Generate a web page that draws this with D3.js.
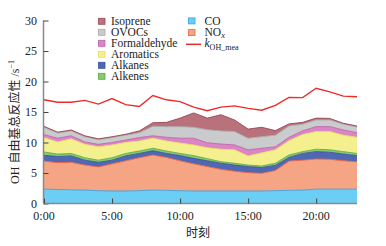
<!DOCTYPE html>
<html><head><meta charset="utf-8">
<script src="https://cdn.jsdelivr.net/npm/d3@7"></script>
<style>body{margin:0;background:#fff}</style>
</head><body><svg id="c" width="386" height="246" font-family="'Liberation Serif','Times New Roman','DejaVu Serif','Noto Sans CJK SC',serif"></svg>
<script>
const hours = d3.range(0, 24);
const seriesNames = ["CO","NOx","Alkanes","Alkenes","Aromatics","Formaldehyde","OVOCs","Isoprene"];
const CO =          [2.35,2.3,2.25,2.2,2.1,2.05,2.05,2.1,2.2,2.15,2.1,2.05,2.05,2.05,2.05,2.05,2.05,2.1,2.15,2.2,2.35,2.35,2.35,2.35];
const NOx =         [4.6,4.4,4.5,4.1,3.9,4.45,4.95,5.4,5.75,5.4,4.9,4.45,4.0,3.55,3.25,3.0,2.9,3.3,4.8,4.9,4.95,4.9,4.65,4.5];
const Alkanes =     [0.95,1.0,1.05,0.8,0.75,0.6,0.8,0.7,0.7,0.65,0.85,0.9,0.95,1.0,1.0,1.0,0.95,0.85,0.6,1.1,1.2,1.15,1.1,1.0];
const Alkenes =     [0.55,0.4,0.4,0.4,0.35,0.4,0.4,0.4,0.4,0.4,0.35,0.45,0.35,0.25,0.3,0.25,0.25,0.35,0.4,0.3,0.4,0.4,0.4,0.35];
const Aromatics =   [2.35,2.0,2.4,2.2,2.2,2.1,1.8,1.65,1.65,1.65,1.7,1.75,1.8,2.05,2.2,1.5,2.15,2.2,2.35,2.8,2.9,3.0,2.7,2.65];
const Formaldehyde =[0.5,0.6,0.5,0.4,0.4,0.4,0.4,0.55,0.4,0.6,0.8,1.1,0.8,0.85,0.8,1.0,0.75,0.5,0.55,0.6,0.8,0.8,0.85,0.75];
const OVOCs =       [1.2,0.85,0.8,0.85,0.75,0.8,0.8,0.8,1.55,1.75,1.9,1.8,2.15,2.15,2.2,1.9,1.9,1.9,1.85,1.1,1.1,1.1,0.95,0.95];
const Isoprene =    [0.15,0.15,0.15,0.15,0.15,0.15,0.15,0.3,0.6,0.7,1.4,2.35,1.9,2.65,1.9,1.5,1.55,0.75,0.35,0.3,0.3,0.25,0.15,0.15];
const kOHmea =      [17.0,16.6,16.6,16.9,16.3,17.2,16.2,15.9,17.7,17.0,16.7,15.8,15.2,15.8,16.0,15.6,15.3,16.1,17.4,17.35,18.9,18.3,17.6,17.5];
const yTicks = [0,5,10,15,20,25,30];
const xTicks = [0,5,10,15,20];
const xTickLabels = ["0:00","5:00","10:00","15:00","20:00"];

const fills = {CO:"#6ccdf5",NOx:"#f5a484",Alkanes:"#5068b4",Alkenes:"#88c870",Aromatics:"#f5f08e",Formaldehyde:"#d985c6",OVOCs:"#c9cbcd",Isoprene:"#b9717b"};
const strokes = {CO:"#3aa2dc",NOx:"#f0623a",Alkanes:"#3a509c",Alkenes:"#5aac48",Aromatics:"#e6de62",Formaldehyde:"#c062a8",OVOCs:"#a9a9a9",Isoprene:"#9a4a56"};
const dataMap = {CO,NOx,Alkanes,Alkenes,Aromatics,Formaldehyde,OVOCs,Isoprene};

const table = hours.map((h,i)=>{const o={h}; seriesNames.forEach(s=>o[s]=dataMap[s][i]); return o;});

const svg = d3.select("#c");
const x = d3.scaleLinear().domain([0,23]).range([44,357]);
const y = d3.scaleLinear().domain([0,30]).range([203.5,20.5]);

const stack = d3.stack().keys(seriesNames)(table);
const area = d3.area().x(d=>x(d.data.h)).y0(d=>y(d[0])).y1(d=>y(d[1]));
const topLine = d3.line().x(d=>x(d.data.h)).y(d=>y(d[1]));

svg.append("g").selectAll("path").data(stack).join("path")
  .attr("d",area).attr("fill",d=>fills[d.key]);
svg.append("g").selectAll("path").data(stack).join("path")
  .attr("d",topLine).attr("fill","none").attr("stroke",d=>strokes[d.key]).attr("stroke-width",0.9);

svg.append("path").datum(kOHmea)
  .attr("d",d3.line().x((d,i)=>x(hours[i])).y(d=>y(d)))
  .attr("fill","none").attr("stroke","#ee2b2b").attr("stroke-width",1.4);

// axes
const axCol = "#8a8a8a";
const yAxis = svg.append("g").attr("transform","translate(43.5,0)")
  .call(d3.axisRight(y).tickValues(yTicks).tickSize(5).tickFormat(""));
yAxis.select(".domain").attr("stroke",axCol).attr("stroke-width",1.5).attr("d","M0,20.5V203.5");
yAxis.selectAll(".tick line").attr("stroke","#444");
svg.append("g").selectAll("text").data(yTicks).join("text")
  .attr("x",37).attr("y",d=>y(d)+4).attr("text-anchor","end")
  .attr("font-size",12).attr("fill","#222").text(d=>d);

const xAxis = svg.append("g").attr("transform","translate(0,203.5)")
  .call(d3.axisTop(x).tickValues(xTicks).tickSize(5).tickFormat(""));
xAxis.select(".domain").attr("stroke",axCol).attr("stroke-width",1.5).attr("d","M43.5,0H357");
xAxis.selectAll(".tick line").attr("stroke","#444");
svg.append("g").selectAll("text").data(xTicks).join("text")
  .attr("x",d=>x(d)).attr("y",220).attr("text-anchor","middle")
  .attr("font-size",12).attr("fill","#222").text((d,i)=>xTickLabels[i]);

svg.append("text").attr("x",198).attr("y",237).attr("text-anchor","middle")
  .attr("font-size",12).attr("fill","#222").text("时刻");

const yl = svg.append("text").attr("transform","translate(19,122) rotate(-90)")
  .attr("text-anchor","middle").attr("font-size",12).attr("fill","#222");
yl.append("tspan").text("OH 自由基总反应性 /s");
yl.append("tspan").attr("dy",-5).attr("font-size",8).text("−1");

// legend
const leg1 = ["Isoprene","OVOCs","Formaldehyde","Aromatics","Alkanes","Alkenes"];
const lg = svg.append("g");
leg1.forEach((s,i)=>{
  const cy = 21.3 + i*11;
  lg.append("rect").attr("x",98.5).attr("y",cy-3).attr("width",6.5).attr("height",6)
    .attr("fill",fills[s]).attr("stroke",strokes[s]).attr("stroke-width",0.8);
  lg.append("text").attr("x",111).attr("y",cy+3.8).attr("font-size",11.5).attr("fill","#222").text(s);
});
[["CO",20.9],["NOx",32.6]].forEach(([s,cy])=>{
  lg.append("rect").attr("x",188.5).attr("y",cy-3).attr("width",6.5).attr("height",6)
    .attr("fill",fills[s]).attr("stroke",strokes[s]).attr("stroke-width",0.8);
});
lg.append("text").attr("x",204.5).attr("y",24.7).attr("font-size",11.5).attr("fill","#222").text("CO");
const nt = lg.append("text").attr("x",204.5).attr("y",36.2).attr("font-size",11.5).attr("fill","#222");
nt.append("tspan").text("NO");
nt.append("tspan").attr("dy",1.5).attr("font-size",8.5).attr("font-style","italic").text("x");
lg.append("line").attr("x1",186).attr("x2",201).attr("y1",44.3).attr("y2",44.3)
  .attr("stroke","#ee2b2b").attr("stroke-width",1.5);
const kt = lg.append("text").attr("x",204.5).attr("y",47.3).attr("font-size",11.5).attr("fill","#222");
kt.append("tspan").attr("font-style","italic").text("k");
kt.append("tspan").attr("dy",2.5).attr("font-size",8).text("OH_mea");
</script></body></html>
